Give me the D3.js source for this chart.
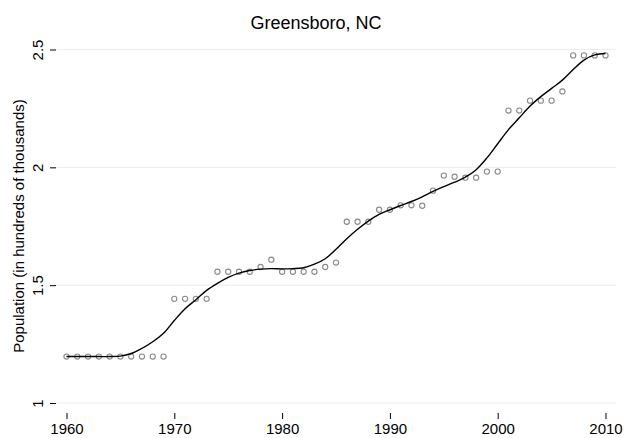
<!DOCTYPE html>
<html>
<head>
<meta charset="utf-8">
<script src="https://cdn.jsdelivr.net/npm/d3@7"></script>
<style>
  body { margin: 0; background: #fff; }
  svg { display: block; font-family: "Liberation Sans", Arial, sans-serif; }
</style>
</head>
<body>
<div id="chart"></div>
<script>
// observed population, hundreds of thousands
var years = d3.range(1960, 2011);
var population = [
  1.197, 1.197, 1.197, 1.197, 1.197, 1.197, 1.197, 1.197, 1.197, 1.197,
  1.442, 1.442, 1.442, 1.442, 1.557, 1.557, 1.557, 1.557, 1.577, 1.608,
  1.557, 1.557, 1.557, 1.557, 1.577, 1.596, 1.769, 1.769, 1.769, 1.820,
  1.820, 1.839, 1.839, 1.837, 1.901, 1.965, 1.960, 1.956, 1.956, 1.982,
  1.982, 2.241, 2.241, 2.283, 2.283, 2.283, 2.322, 2.475, 2.475, 2.475,
  2.475
];
// smoothed fit
var smooth = [
  1.197, 1.197, 1.197, 1.197, 1.197, 1.199, 1.210, 1.232, 1.260, 1.296,
  1.350, 1.400, 1.438, 1.478, 1.508, 1.533, 1.551, 1.562, 1.568, 1.570,
  1.569, 1.570, 1.574, 1.589, 1.612, 1.652, 1.697, 1.737, 1.772, 1.800,
  1.820, 1.838, 1.855, 1.875, 1.898, 1.918, 1.937, 1.958, 1.990, 2.040,
  2.100, 2.160, 2.210, 2.260, 2.300, 2.335, 2.370, 2.415, 2.455, 2.477,
  2.483
];
var xTicks = [1960, 1970, 1980, 1990, 2000, 2010];
var yTicks = [1, 1.5, 2, 2.5];

var width = 627, height = 438;

var svg = d3.select("#chart").append("svg")
  .attr("width", width)
  .attr("height", height);

var x = d3.scaleLinear().domain([1960, 2010]).range([66.5, 605.5]);
var y = d3.scaleLinear().domain([1, 2.5]).range([403, 49.5]);

// gridlines
svg.append("g").selectAll("line")
  .data(yTicks)
  .enter().append("line")
  .attr("x1", 56.5).attr("x2", 616)
  .attr("y1", function (d) { return y(d); })
  .attr("y2", function (d) { return y(d); })
  .attr("stroke", "#e6eeee")
  .attr("stroke-width", 1);

// y axis ticks and labels
var yAxis = svg.append("g").attr("transform", "translate(56,0)")
  .call(d3.axisLeft(y).tickValues(yTicks).tickSize(6).tickFormat(d3.format("")));
yAxis.select(".domain").remove();
yAxis.selectAll(".tick line").attr("stroke", "#000");
yAxis.selectAll(".tick text")
  .attr("transform", "rotate(-90)")
  .attr("x", 0).attr("y", -13)
  .attr("dy", 0)
  .attr("text-anchor", "middle")
  .style("font-size", "15px")
  .attr("fill", "#000");

// x axis
var xAxis = svg.append("g").attr("transform", "translate(0,413)")
  .call(d3.axisBottom(x).tickValues(xTicks).tickSize(6).tickFormat(d3.format("d")));
xAxis.select(".domain").remove();
xAxis.selectAll(".tick line").attr("stroke", "#000");
xAxis.selectAll(".tick text")
  .attr("y", 20.5).attr("dy", 0)
  .style("font-size", "15px")
  .attr("fill", "#000");

// points
svg.append("g").selectAll("circle")
  .data(years)
  .enter().append("circle")
  .attr("cx", function (d) { return x(d); })
  .attr("cy", function (d, i) { return y(population[i]); })
  .attr("r", 2.6)
  .attr("fill", "none")
  .attr("stroke", "#8a8a8a")
  .attr("stroke-width", 1.1);

// smooth line
var line = d3.line()
  .x(function (d) { return x(d); })
  .y(function (d, i) { return y(smooth[i]); })
  .curve(d3.curveCatmullRom);

svg.append("path")
  .datum(years)
  .attr("d", line)
  .attr("fill", "none")
  .attr("stroke", "#000")
  .attr("stroke-width", 1.4);

// title
svg.append("text")
  .attr("x", 316).attr("y", 29)
  .attr("text-anchor", "middle")
  .style("font-size", "18px")
  .text("Greensboro, NC");

// y label
svg.append("text")
  .attr("transform", "translate(24,226) rotate(-90)")
  .attr("text-anchor", "middle")
  .style("font-size", "15px")
  .text("Population (in hundreds of thousands)");
</script>
</body>
</html>
